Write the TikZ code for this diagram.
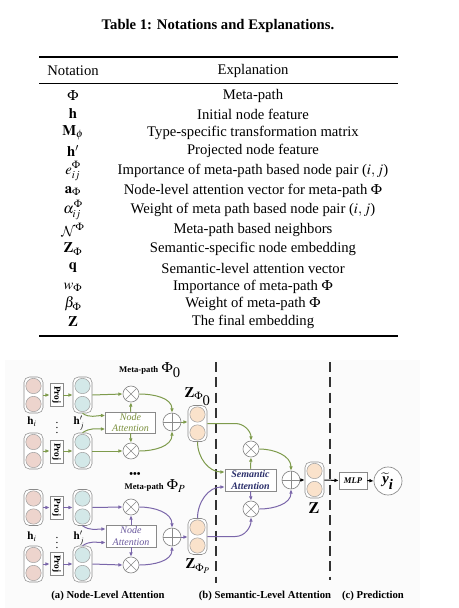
\documentclass[tikz,border=0pt]{standalone}
\usepackage{mathptmx}
\DeclareMathAlphabet{\mathcal}{OMS}{cmsy}{m}{n}
\usepackage{graphicx}
\usepackage[no-math]{fontspec}
\setmainfont{Liberation Serif}
\usetikzlibrary{arrows.meta,calc}
\definecolor{gcol}{HTML}{7E9B4C}
\definecolor{pcol}{HTML}{7A66AA}
\definecolor{gtext}{HTML}{7A8F3C}
\definecolor{ptext}{HTML}{6B5A9E}
\definecolor{navy}{HTML}{2B2F6B}
\definecolor{pinkc}{HTML}{EDD4CD}
\definecolor{bluec}{HTML}{D3E8E8}
\definecolor{peachc}{HTML}{FAE2CB}
\definecolor{boxgray}{HTML}{8A8A8A}
\definecolor{bggray}{HTML}{FBFBFB}
\newcommand\featvec[4]{%
  \node[vecbox] (#1) at (#2,#3) {};
  \node[veccirc,fill=#4] (#1u) at (#2,#3+9) {};
  \node[veccirc,fill=#4] (#1d) at (#2,#3-9) {};
}
\begin{document}
\begin{tikzpicture}[x=0.75pt,y=0.75pt,
  vecbox/.style={draw=boxgray, line width=0.4pt, fill=white, rounded corners=4pt,
    minimum width=14.25pt, minimum height=27pt, inner sep=0pt},
  veccirc/.style={circle, draw=boxgray!80, line width=0.4pt, minimum size=11.5pt, inner sep=0pt},
  projbox/.style={draw=boxgray, line width=0.4pt, fill=white, minimum width=9.75pt,
    minimum height=17pt, inner sep=0pt, font=\fontsize{7}{8}\selectfont\bfseries},
  abox/.style={draw=boxgray, line width=0.4pt, fill=white, inner sep=0pt, align=center},
  otimesn/.style={circle, draw=boxgray, line width=0.5pt, fill=white, minimum size=12pt, inner sep=0pt,
    path picture={\draw[boxgray, line width=0.5pt] (path picture bounding box.north west)--(path picture bounding box.south east)
      (path picture bounding box.south west)--(path picture bounding box.north east);}},
  oplusn/.style={circle, draw=boxgray, line width=0.5pt, fill=white, minimum size=13.5pt, inner sep=0pt,
    path picture={\draw[boxgray, line width=0.5pt] (path picture bounding box.north)--(path picture bounding box.south)
      (path picture bounding box.west)--(path picture bounding box.east);}},
  garr/.style={draw=gcol, line width=0.75pt, -{Latex[length=3.2pt,width=2.8pt]}},
  parr/.style={draw=pcol, line width=0.75pt, -{Latex[length=3.2pt,width=2.8pt]}},
  karr/.style={draw=black, line width=0.75pt, -{Latex[length=3.2pt,width=2.8pt]}},
  sepline/.style={draw=black!80, line width=1.1pt, dash pattern=on 7.5pt off 4pt},
  tabtxt/.style={inner sep=0pt, font=\fontsize{11}{13}\selectfont},
  lbl/.style={inner sep=0pt, font=\fontsize{8.5}{9}\selectfont},
  capt/.style={inner sep=0pt, font=\fontsize{8}{9}\selectfont\bfseries}
]
\useasboundingbox (0,0) rectangle (459,-608);
\fill[bggray] (5,-360) rectangle (420,-608);

% ---------------- Table ----------------
\node[inner sep=0pt, font=\fontsize{11}{13}\selectfont\bfseries] (title) at (218,-26) {Table 1: Notations and Explanations.};
\draw[line width=0.9pt] (39,-57) -- (398,-57);
\node[tabtxt] (hn) at (73,-71) {Notation};
\node[tabtxt] (he) at (253,-71) {Explanation};
\draw[line width=0.6pt] (39,-83) -- (398,-83);
\node[tabtxt] (n1) at (73,-96) {$\Phi$};
\node[tabtxt] (e1) at (253,-96) {Meta-path};
\node[tabtxt] (n2) at (73,-114) {$\mathbf{h}$};
\node[tabtxt] (e2) at (253,-114) {Initial node feature};
\node[tabtxt] (n3) at (73,-133) {$\mathbf{M}_{\phi}$};
\node[tabtxt] (e3) at (253,-133) {Type-specific transformation matrix};
\node[tabtxt] (n4) at (73,-151) {$\mathbf{h}'$};
\node[tabtxt] (e4) at (253,-151) {Projected node feature};
\node[tabtxt] (n5) at (73,-171) {$e^{\Phi}_{ij}$};
\node[tabtxt] (e5) at (253,-171) {Importance of meta-path based node pair ($i,j$)};
\node[tabtxt] (n6) at (73,-191) {$\mathbf{a}_{\Phi}$};
\node[tabtxt] (e6) at (253,-191) {Node-level attention vector for meta-path $\Phi$};
\node[tabtxt] (n7) at (73,-210) {$\alpha^{\Phi}_{ij}$};
\node[tabtxt] (e7) at (253,-210) {Weight of meta path based node pair ($i,j$)};
\node[tabtxt] (n8) at (73,-230) {$\mathcal{N}^{\Phi}$};
\node[tabtxt] (e8) at (253,-230) {Meta-path based neighbors};
\node[tabtxt] (n9) at (73,-249) {$\mathbf{Z}_{\Phi}$};
\node[tabtxt] (e9) at (253,-249) {Semantic-specific node embedding};
\node[tabtxt] (n10) at (73,-268) {$\mathbf{q}$};
\node[tabtxt] (e10) at (253,-268) {Semantic-level attention vector};
\node[tabtxt] (n11) at (73,-287) {$w_{\Phi}$};
\node[tabtxt] (e11) at (253,-287) {Importance of meta-path $\Phi$};
\node[tabtxt] (n12) at (73,-304) {$\beta_{\Phi}$};
\node[tabtxt] (e12) at (253,-304) {Weight of meta-path $\Phi$};
\node[tabtxt] (n13) at (73,-322) {$\mathbf{Z}$};
\node[tabtxt] (e13) at (253,-322) {The final embedding};
\draw[line width=0.9pt] (39,-336) -- (398,-336);

% ---------------- Separators ----------------
\draw[sepline] (216,-362) -- (216,-583);
\draw[sepline] (330,-362) -- (330,-580);

% ---------------- Group Phi_0 ----------------
\node[inner sep=0pt] (mp1) at (150,-370) {{\fontsize{6.5}{8}\selectfont\bfseries Meta-path} {\fontsize{11}{12}\selectfont$\Phi_{\textrm{0}}$}};
\featvec{in1}{33.5}{-395}{pinkc}
\featvec{in2}{33.5}{-451}{pinkc}
\node[projbox] (proj1) at (56.5,-395) {\rotatebox{-90}{Proj}};
\node[projbox] (proj2) at (56.5,-452) {\rotatebox{-90}{Proj}};
\featvec{hp1}{82.5}{-395}{bluec}
\featvec{hp2}{82.5}{-451}{bluec}
\node[lbl] (hi1) at (32,-422) {$\mathbf{h}_i$};
\node[lbl] (vd1) at (57,-424) {$\vdots$};
\node[lbl] (hj1) at (79,-423) {$\mathbf{h}'_j$};
\node[abox, minimum width=37.5pt, minimum height=15.75pt, text=gtext,
  font=\fontsize{7.5}{8.5}\selectfont\itshape] (na1) at (130.5,-422.5) {Node\\Attention};
\node[otimesn] (mu1) at (131,-394) {};
\node[otimesn] (mu2) at (131,-451) {};
\node[oplusn] (pl1) at (172,-422) {};
\featvec{z1}{197.5}{-423.5}{peachc}
\node[inner sep=0pt, font=\fontsize{11}{12}\selectfont] (zl1) at (198,-397) {$\mathbf{Z}_{\Phi_{\textrm{0}}}$};

\draw[garr] (in1.east) -- (proj1.west);
\draw[garr] (proj1.east) -- (hp1.west);
\draw[garr] (in2.east) -- (in2.east -| proj2.west);
\draw[garr] (proj2.east |- hp2.west) -- (hp2.west);
\draw[garr] (hp1.east) -- (mu1.west);
\draw[garr] (hp2.east) -- (mu2.west);
\draw[garr] (hp1.south) to[out=-35,in=180] ($(na1.west)+(0,7)$);
\draw[garr] (hp2.north) to[out=35,in=180] ($(na1.west)+(0,-6.5)$);
\draw[garr] (na1.north) -- (mu1.south);
\draw[garr] (na1.south) -- (mu2.north);
\draw[garr] (mu1.east) to[out=0,in=90] (pl1.north);
\draw[garr] (mu2.east) to[out=0,in=-90] (pl1.south);
\draw[garr] (pl1.east) -- (z1.west |- pl1.east);

% ---------------- Group Phi_P ----------------
\node[inner sep=0pt, font=\fontsize{8}{8}\selectfont\bfseries] (dots) at (135,-475) {•••};
\node[inner sep=0pt] (mp2) at (155,-486) {{\fontsize{6.5}{8}\selectfont\bfseries Meta-path} {\fontsize{11}{12}\selectfont$\Phi_P$}};
\featvec{in3}{33.5}{-507.5}{pinkc}
\featvec{in4}{33.5}{-564}{pinkc}
\node[projbox] (proj3) at (56.5,-507.5) {\rotatebox{-90}{Proj}};
\node[projbox] (proj4) at (56.5,-564) {\rotatebox{-90}{Proj}};
\featvec{hp3}{82.5}{-507.5}{bluec}
\featvec{hp4}{82.5}{-564}{bluec}
\node[lbl] (hi2) at (32,-537) {$\mathbf{h}_i$};
\node[lbl] (vd2) at (57,-539) {$\vdots$};
\node[lbl] (hj2) at (79,-538) {$\mathbf{h}'_j$};
\node[abox, minimum width=37.5pt, minimum height=16.5pt, text=ptext,
  font=\fontsize{7.5}{8.5}\selectfont\itshape] (na2) at (131,-536) {Node\\Attention};
\node[otimesn] (mu3) at (131,-507) {};
\node[otimesn] (mu4) at (131,-565) {};
\node[oplusn] (pl2) at (172,-537) {};
\featvec{z2}{197.5}{-536.5}{peachc}
\node[inner sep=0pt, font=\fontsize{11}{12}\selectfont] (zl2) at (198,-566) {$\mathbf{Z}_{\Phi_P}$};

\draw[parr] (in3.east) -- (proj3.west);
\draw[parr] (proj3.east) -- (hp3.west);
\draw[parr] (in4.east) -- (proj4.west);
\draw[parr] (proj4.east) -- (hp4.west);
\draw[parr] (hp3.east) -- (mu3.west);
\draw[parr] (hp4.east) -- (mu4.west);
\draw[parr] (hp3.south) to[out=-35,in=180] ($(na2.west)+(0,7)$);
\draw[parr] (hp4.north) to[out=35,in=180] ($(na2.west)+(0,-6.5)$);
\draw[parr] (na2.north) -- (mu3.south);
\draw[parr] (na2.south) -- (mu4.north);
\draw[parr] (mu3.east) to[out=0,in=90] (pl2.north);
\draw[parr] (mu4.east) to[out=0,in=-90] (pl2.south);
\draw[parr] (pl2.east) -- (z2.west |- pl2.east);

% ---------------- Semantic level ----------------
\node[abox, minimum width=38.25pt, minimum height=16.5pt, text=navy,
  font=\fontsize{7.5}{8.5}\selectfont\bfseries\itshape] (sa) at (250.5,-480) {Semantic\\Attention};
\node[otimesn] (smu1) at (251,-449) {};
\node[otimesn] (smu2) at (251,-509) {};
\node[oplusn] (spl) at (291,-480) {};
\featvec{zf}{314.5}{-480}{peachc}
\node[inner sep=0pt, font=\fontsize{12}{13}\selectfont] (zl) at (314,-508) {$\mathbf{Z}$};

\draw[garr] (z1.east) -- ++(28,0) to[out=0,in=90] (smu1.north);
\draw[garr] (z1.south) to[out=-90,in=180] ($(sa.west)+(0,8)$);
\draw[parr] (z2.east) -- ++(28,0) to[out=0,in=-90] (smu2.south);
\draw[parr] (z2.north) to[out=90,in=180] ($(sa.west)+(0,-7)$);
\draw[garr] (sa.north) -- (smu1.south);
\draw[parr] (sa.south) -- (smu2.north);
\draw[garr] (smu1.east) to[out=0,in=90] (spl.north);
\draw[parr] (smu2.east) to[out=0,in=-90] (spl.south);
\draw[karr] (spl.east) -- (zf.west);

% ---------------- Prediction ----------------
\node[abox, minimum width=21pt, minimum height=12.75pt, font=\fontsize{6.5}{8}\selectfont\bfseries\itshape] (mlp) at (353,-480.5) {MLP};
\node[circle, draw=boxgray, line width=0.5pt, fill=white, minimum size=21pt, inner sep=0pt,
  font=\fontsize{11}{12}\selectfont] (yout) at (388,-481) {$\widetilde{\textbf{\textit{y}}}_{\textbf{\textit{i}}}$};
\draw[karr] (zf.east) -- (mlp.west);
\draw[karr] (mlp.east) -- (yout.west);

% ---------------- Captions ----------------
\node[capt] (capa) at (108,-596) {(a) Node-Level Attention};
\node[capt] (capb) at (265,-596) {(b) Semantic-Level Attention};
\node[capt] (capc) at (373,-596) {(c) Prediction};
\end{tikzpicture}
\end{document}
